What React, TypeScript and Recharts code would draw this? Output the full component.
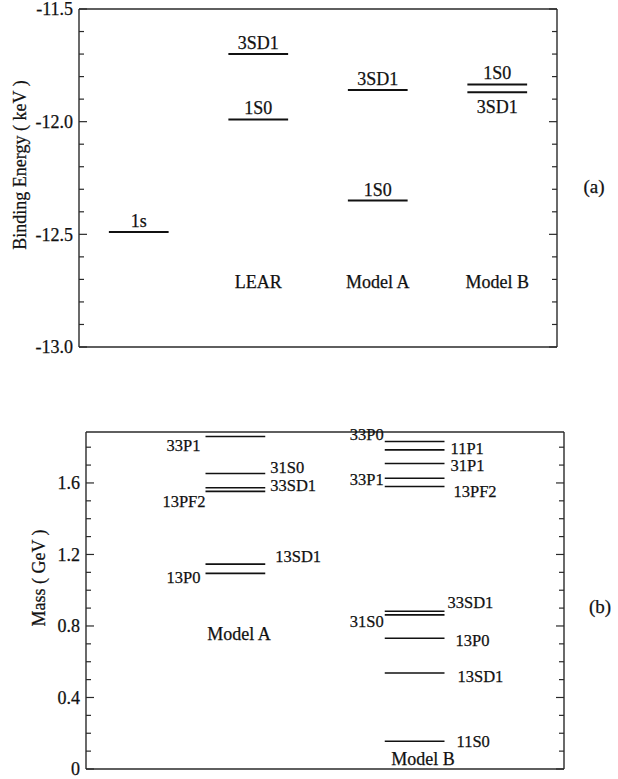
import React from 'react';
import { ComposedChart, Line, Scatter, XAxis, YAxis } from 'recharts';

// ---- panel (a): binding energies (keV)
const topColumns = ['', 'LEAR', 'Model A', 'Model B'];
const topLevelNames = ['1s', '3SD1', '1S0', '3SD1', '1S0', '1S0', '3SD1'];
const topLevelColumn = [0, 1, 1, 2, 2, 3, 3];
const topLevelEnergy = [-12.49, -11.7, -11.99, -11.86, -12.35, -11.835, -11.87];
const topTicks = [-13.0, -12.9, -12.8, -12.7, -12.6, -12.5, -12.4, -12.3, -12.2, -12.1, -12.0, -11.9, -11.8, -11.7, -11.6, -11.5];
const topTickLabels = [-13.0, -12.5, -12.0, -11.5];

// ---- panel (b): masses (GeV)
const bottomColumns = ['Model A', 'Model B'];
const bottomLevelNames = ['33P1', '31S0', '33SD1', '13PF2', '13SD1', '13P0', '33P0', '11P1', '31P1', '33P1', '13PF2', '33SD1', '31S0', '13P0', '13SD1', '11S0'];
const bottomLevelColumn = [0, 0, 0, 0, 0, 0, 1, 1, 1, 1, 1, 1, 1, 1, 1, 1];
const bottomLevelMass = [1.86, 1.653, 1.573, 1.553, 1.146, 1.094, 1.832, 1.785, 1.709, 1.626, 1.58, 0.882, 0.862, 0.731, 0.537, 0.155];
const bottomTicks = [0, 0.1, 0.2, 0.3, 0.4, 0.5, 0.6, 0.7, 0.8, 0.9, 1.0, 1.1, 1.2, 1.3, 1.4, 1.5, 1.6, 1.7, 1.8];
const bottomTickLabels = [0, 0.4, 0.8, 1.2, 1.6];

// layout only: where each level's label sits
const topLabelSide = ['above', 'above', 'above', 'above', 'above', 'above', 'below'];
const bottomLabelPlace: [string, number, number][] = [
  ['left', 5, 15], ['right', 5, 0], ['right', 5, 3], ['left', 0, 16], ['right', 10, -2], ['left', 5, 10],
  ['left', 1, -1], ['right', 6, 4], ['right', 6, 8], ['left', 1, 7], ['right', 9, 10],
  ['right', 3, -3], ['left', 1, 12], ['right', 11, 8], ['right', 13, 9], ['right', 12, 6],
];
const topColumnCenter = [0.5, 1.5, 2.5, 3.5];
const bottomColumnCenter = [1.25, 2.75];
const topCaptionRow = -12.71;
const bottomCaptionPos = [
  { x: 1.28, y: 0.76 },
  { x: 2.82, y: 0.06 },
];
const HALF = 0.25;

const FONT = 'Liberation Serif, DejaVu Serif, serif';
const INK = '#111';
const FRAME = '#2a2a2a';
const txt = { fontFamily: FONT, fill: INK, stroke: INK, strokeWidth: 0.25 };

const YTick = (props: any) => {
  const { x, y, payload, labels, fmt, plotWidth } = props;
  const major = labels.some((v: number) => Math.abs(v - payload.value) < 1e-6);
  const len = major ? 8 : 5;
  const xr = x + plotWidth;
  return (
    <g>
      <line x1={x} x2={x + len} y1={y} y2={y} stroke={FRAME} strokeWidth={1.2} />
      <line x1={xr} x2={xr - len} y1={y} y2={y} stroke={FRAME} strokeWidth={1.2} />
      {major && (
        <text x={x - 6} y={y} dy="0.36em" textAnchor="end" fontSize={18} {...txt}>
          {fmt(payload.value)}
        </text>
      )}
    </g>
  );
};

const levelData = (center: number, value: number) => [
  { x: center - HALF, y: value },
  { x: center, y: value },
  { x: center + HALF, y: value },
];

const captionShape = (p: any) => (
  <text x={p.cx} y={p.cy} dy="0.36em" textAnchor="middle" fontSize={18} {...txt}>
    {p.payload.name}
  </text>
);

function TopPanel() {
  const captions = topColumns
    .map((name, i) => ({ x: topColumnCenter[i], y: topCaptionRow, name }))
    .filter((c) => c.name);
  const fmt = (v: number) => v.toFixed(1);
  return (
    <ComposedChart width={618} height={360} margin={{ top: 8, right: 60, bottom: 12, left: 78 }}>
      <XAxis type="number" dataKey="x" domain={[0, 4]} height={1} tick={false} tickLine={false} axisLine={{ stroke: FRAME, strokeWidth: 1.4 }} />
      <XAxis xAxisId="top" orientation="top" type="number" dataKey="x" domain={[0, 4]} height={1} tick={false} tickLine={false} axisLine={{ stroke: FRAME, strokeWidth: 1.4 }} />
      <YAxis type="number" dataKey="y" domain={[-13, -11.5]} ticks={topTicks} interval={0} width={1} tickSize={0} tickMargin={0} tickLine={false}
        axisLine={{ stroke: FRAME, strokeWidth: 1.4 }}
        tick={(p: any) => <YTick {...p} labels={topTickLabels} fmt={fmt} plotWidth={478} />} />
      <YAxis yAxisId="r" orientation="right" type="number" domain={[-13, -11.5]} width={1} tick={false} tickLine={false}
        axisLine={{ stroke: FRAME, strokeWidth: 1.4 }} />
      {topLevelEnergy.map((e, i) => (
        <Line key={i} data={levelData(topColumnCenter[topLevelColumn[i]], e)} dataKey="y" stroke={INK} strokeWidth={2}
          isAnimationActive={false} activeDot={false}
          dot={(p: any) =>
            p.index === 1 ? (
              <text key={`d${p.index}`} x={p.cx} y={topLabelSide[i] === 'above' ? p.cy - 5 : p.cy + 21} textAnchor="middle"
                fontSize={18} {...txt}>
                {topLevelNames[i]}
              </text>
            ) : (
              <g key={`d${p.index}`} />
            )
          } />
      ))}
      <Scatter data={captions} dataKey="y" isAnimationActive={false} shape={captionShape} />
    </ComposedChart>
  );
}

function BottomPanel() {
  const captions = bottomColumns.map((name, i) => ({ ...bottomCaptionPos[i], name }));
  const fmt = (v: number) => (v === 0 ? '0' : v.toFixed(1));
  return (
    <ComposedChart width={618} height={359} margin={{ top: 11, right: 53, bottom: 9, left: 85 }}>
      <XAxis type="number" dataKey="x" domain={[0, 4]} height={1} tick={false} tickLine={false} axisLine={{ stroke: FRAME, strokeWidth: 1.4 }} />
      <XAxis xAxisId="top" orientation="top" type="number" dataKey="x" domain={[0, 4]} height={1} tick={false} tickLine={false} axisLine={{ stroke: FRAME, strokeWidth: 1.4 }} />
      <YAxis type="number" dataKey="y" domain={[0, 1.885]} ticks={bottomTicks} interval={0} width={1} tickSize={0} tickMargin={0} tickLine={false}
        axisLine={{ stroke: FRAME, strokeWidth: 1.4 }}
        tick={(p: any) => <YTick {...p} labels={bottomTickLabels} fmt={fmt} plotWidth={478} />} />
      <YAxis yAxisId="r" orientation="right" type="number" domain={[0, 1.885]} width={1} tick={false} tickLine={false}
        axisLine={{ stroke: FRAME, strokeWidth: 1.4 }} />
      {bottomLevelMass.map((m, i) => {
        const [side, dx, dy] = bottomLabelPlace[i];
        const idx = side === 'left' ? 0 : 2;
        return (
          <Line key={i} data={levelData(bottomColumnCenter[bottomLevelColumn[i]], m)} dataKey="y" stroke={INK} strokeWidth={1.6}
            isAnimationActive={false} activeDot={false}
            dot={(p: any) =>
              p.index === idx ? (
                <text key={`d${p.index}`} x={side === 'left' ? p.cx - dx : p.cx + dx} y={p.cy + dy}
                  textAnchor={side === 'left' ? 'end' : 'start'} fontSize={16.5} {...txt}>
                  {bottomLevelNames[i]}
                </text>
              ) : (
                <g key={`d${p.index}`} />
              )
            } />
        );
      })}
      <Scatter data={captions} dataKey="y" isAnimationActive={false} shape={captionShape} />
    </ComposedChart>
  );
}

export default function App() {
  return (
    <div style={{ position: 'absolute', left: 0, top: 0, width: 618, height: 779, background: '#fff' }}>
      <div style={{ position: 'absolute', left: 0, top: 0 }}>
        <TopPanel />
      </div>
      <div style={{ position: 'absolute', left: 0, top: 420 }}>
        <BottomPanel />
      </div>
      <svg width={618} height={779} style={{ position: 'absolute', left: 0, top: 0, pointerEvents: 'none' }}>
        <text transform="translate(20,165) rotate(-90)" dy="0.36em" textAnchor="middle" fontSize={18} {...txt}>
          Binding Energy ( keV )
        </text>
        <text transform="translate(39,578) rotate(-90)" dy="0.36em" textAnchor="middle" fontSize={18} {...txt}>
          Mass ( GeV )
        </text>
        <text x={594} y={186} dy="0.36em" textAnchor="middle" fontSize={19} {...txt}>(a)</text>
        <text x={600} y={606} dy="0.36em" textAnchor="middle" fontSize={19} {...txt}>(b)</text>
      </svg>
    </div>
  );
}
